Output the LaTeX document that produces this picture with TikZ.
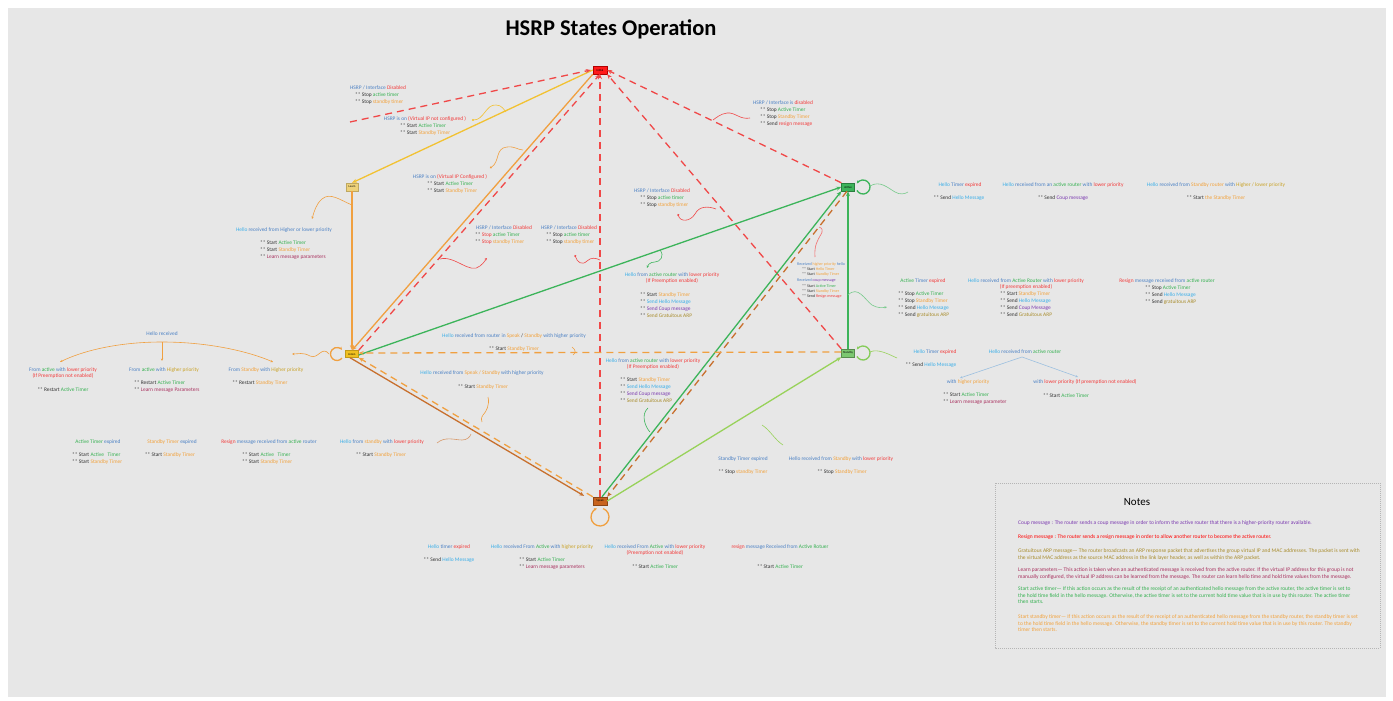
\documentclass[tikz,border=0pt]{standalone}
\usepackage{fontspec}
\setmainfont{Carlito}
\usetikzlibrary{arrows.meta}
\definecolor{bgc}{HTML}{E7E7E7}
\definecolor{cB}{HTML}{4A80C4}
\definecolor{cL}{HTML}{3AAEE8}
\definecolor{cG}{HTML}{34B050}
\definecolor{cO}{HTML}{F2A23C}
\definecolor{cR}{HTML}{F23A3A}
\definecolor{cP}{HTML}{7B3AB0}
\definecolor{cY}{HTML}{A88C2C}
\definecolor{cM}{HTML}{A8305E}
\definecolor{cK}{HTML}{333333}
\definecolor{cH}{HTML}{C9A227}
\definecolor{eY}{HTML}{F2C232}
\definecolor{eO}{HTML}{F0A040}
\definecolor{eBr}{HTML}{C8702E}
\definecolor{eR}{HTML}{F04848}
\definecolor{eG}{HTML}{3CB45A}
\definecolor{eLG}{HTML}{98D25A}
\definecolor{eLB}{HTML}{9CC0E0}
\definecolor{sInit}{HTML}{FF1A1A}
\definecolor{sLearn}{HTML}{EED27A}
\definecolor{sListen}{HTML}{F0C020}
\definecolor{sSpeak}{HTML}{C8641E}
\definecolor{sActive}{HTML}{3CB45A}
\definecolor{sStandby}{HTML}{7CC870}
\definecolor{nbox}{HTML}{B5B5B5}
\newcommand\zB[1]{\textcolor{cB}{#1}}
\newcommand\zL[1]{\textcolor{cL}{#1}}
\newcommand\zG[1]{\textcolor{cG}{#1}}
\newcommand\zO[1]{\textcolor{cO}{#1}}
\newcommand\zR[1]{\textcolor{cR}{#1}}
\newcommand\zP[1]{\textcolor{cP}{#1}}
\newcommand\zY[1]{\textcolor{cY}{#1}}
\newcommand\zM[1]{\textcolor{cM}{#1}}
\newcommand\zH[1]{\textcolor{cH}{#1}}
\begin{document}
\begin{tikzpicture}[x=1pt,y=-1pt,
  lab/.style={font=\fontsize{5.4}{6.8}\selectfont, inner sep=0pt, text=cK},
  labb/.style={lab, align=left, anchor=north west, yshift=2.4pt},
  labc/.style={lab, align=center},
  tiny/.style={font=\fontsize{4}{5.1}\selectfont, inner sep=0pt, text=cK, align=left, anchor=north west, yshift=1.8pt},
  st/.style={rectangle, inner sep=0pt, font=\fontsize{3}{3}\selectfont, minimum width=14pt, minimum height=8pt, line width=0.4pt},
  ed/.style={line width=1.3pt, -{Stealth[length=5pt,width=4pt]}},
  dsh/.style={ed, dash pattern=on 7pt off 5pt},
  wv/.style={line width=0.6pt, -{Stealth[length=2.5pt,width=2.2pt]}},
  lp/.style={line width=1.3pt},
  note/.style={font=\fontsize{5.5}{6.6}\selectfont, inner sep=0pt, align=left, anchor=north west, yshift=2.4pt},
]
\useasboundingbox (0,0) rectangle (1393,701);
\fill[bgc] (8,8) rectangle (1386,697);
% title
\node[font=\fontsize{22.5}{24}\selectfont\bfseries, inner sep=0pt] (title) at (611,29) {HSRP States Operation};
% states
\node[st, fill=sInit, draw=red!70!black] (init) at (600,70) {Initial};
\node[st, fill=sLearn, draw=sLearn!80!black, minimum width=12pt] (learn) at (352,187) {Learn};
\node[st, fill=sListen, draw=sListen!80!black, minimum width=13pt, minimum height=7pt] (listen) at (352,354) {Listen};
\node[st, fill=sSpeak, draw=sSpeak!70!black] (speak) at (600,501) {Speak};
\node[st, fill=sActive, draw=sActive!70!black, minimum width=13pt] (active) at (848,187) {Active};
\node[st, fill=sStandby, draw=sStandby!70!black, minimum width=13pt] (standby) at (848,353) {Standby};
\coordinate (rfree) at (350,122);
% edges
\draw[ed, eY] (init.west) -- (learn.north);
\draw[ed, eO] (init.south west) -- (listen.north);
\draw[ed, eO] (learn.south) -- (listen.north);
\draw[dsh, eR] (rfree) -- ([xshift=-2pt]init.west);
\draw[dsh, eR] (listen.north east) -- (init.south);
\draw[dsh, eR] (speak.north) -- (init.south);
\draw[dsh, eR] (standby.north west) -- (init.south east);
\draw[dsh, eR] (active.north west) -- (init.east);
\draw[ed, eG] ([yshift=-1pt]listen.east) -- (active.west);
\draw[ed, eG] ([xshift=2pt]speak.north) -- (active.south west);
\draw[dsh, eBr] ([xshift=-1pt]active.south) -- (speak.north east);
\draw[ed, eG] (standby.north) -- (active.south);
\draw[ed, eLG] (speak.east) -- (standby.south west);
\draw[dsh, eO] ([yshift=1pt]standby.west) -- ([yshift=1pt]listen.east);
\draw[dsh, eO] (speak.north west) -- (listen.south east);
\draw[ed, eBr, shorten >=10pt] ([xshift=-2pt]listen.south) -- (speak.west);
% self loops
\draw[lp, eG, -{Stealth[length=3pt,width=3pt]}] (863,187) ++(150:7) arc[start angle=150, end angle=-150, radius=7];
\draw[lp, eLG!80!eG, -{Stealth[length=3pt,width=3pt]}] (863,353) ++(150:7) arc[start angle=150, end angle=-150, radius=7];
\draw[lp, eO, -{Stealth[length=3pt,width=3pt]}] (337,354) ++(40:6.5) arc[start angle=40, end angle=320, radius=6.5];
\draw[lp, eO, -{Stealth[length=3pt,width=3pt]}] (600,517) ++(-70:9) arc[start angle=-70, end angle=250, radius=9];
% ---------- annotations ----------
\node[labc] (a1h) at (378,88) {\zB{HSRP / Interface} \zR{Disabled}};
\node[labb] (a1b) at (355,95) {** Stop \zG{active timer}\\** Stop \zO{standby timer}};
\node[labc] (a2h) at (425,119) {\zB{HSRP is on} \zR{(Virtual IP not configured )}};
\node[labb] (a2b) at (400,126) {** Start \zG{Active Timer}\\** Start \zO{Standby Timer}};
\node[labc] (a3h) at (450,177) {\zB{HSRP is on} \zR{(Virtual IP Configured )}};
\node[labb] (a3b) at (427,184) {** Start \zG{Active Timer}\\** Start \zO{Standby Timer}};
\node[labc] (a4h) at (783,103) {\zB{HSRP / Interface is} \zR{disabled}};
\node[labb] (a4b) at (760,110) {** Stop \zG{Active Timer}\\** Stop \zO{Standby Timer}\\** Send \zR{resign message}};
\node[labc] (a5h) at (662,191) {\zB{HSRP / Interface} \zR{Disabled}};
\node[labb] (a5b) at (640,198) {** Stop \zG{active timer}\\** Stop \zO{standby timer}};
\node[labc] (a6h) at (284,230) {\zL{Hello} \zB{received from Higher or lower priority}};
\node[labb] (a6b) at (260,243) {** Start \zG{Active Timer}\\** Start \zO{Standby Timer}\\** \zM{Learn message parameters}};
\node[labc] (a7h) at (504,228) {\zB{HSRP / Interface} \zR{Disabled}};
\node[labb] (a7b) at (475,235) {** \zR{Stop} \zG{active Timer}\\** \zR{Stop} \zO{standby Timer}};
\node[labc] (a8h) at (569,228) {\zB{HSRP / Interface} \zR{Disabled}};
\node[labb] (a8b) at (546,235) {** Stop \zG{active timer}\\** Stop \zO{standby timer}};
\node[labc] (a9h) at (672,278) {\zL{Hello} \zB{from} \zG{active router} \zB{with} \zR{lower priority}\\\zR{(If Preemption enabled)}};
\node[labb] (a9b) at (640,295) {** Start \zO{Standby Timer}\\** \zL{Send Hello Message}\\** \zP{Send Coup message}\\** \zY{Send Gratuitous ARP}};
\node[tiny] (a10) at (797,264) {\zB{Received} \zO{higher priority} \zB{hello}\\[0pt]\hspace{5pt}** Start \zO{Hello Timer}\\\hspace{5pt}** Start \zO{Standby Timer}\\[1.5pt]\zB{Received} \zP{coup message}\\\hspace{5pt}** Start \zG{Active Timer}\\\hspace{5pt}** Start \zO{Standby Timer}\\\hspace{5pt}** Send \zR{Resign message}};
% right side, active
\node[labc] (a11h) at (960,185) {\zL{Hello} \zB{Timer} \zR{expired}};
\node[labc] (a11b) at (959,198) {** Send \zL{Hello Message}};
\node[labc] (a12h) at (1063,185) {\zL{Hello} \zB{received from an} \zG{active router} \zB{with} \zR{lower priority}};
\node[labc] (a12b) at (1063,198) {** Send \zP{Coup message}};
\node[labc] (a13h) at (1216,185) {\zL{Hello} \zB{received from} \zO{Standby router} \zB{with} \zH{Higher / lower priority}};
\node[labc] (a13b) at (1216,198) {** Start \zO{the Standby Timer}};
\node[labc] (a14h) at (923,281) {\zG{Active} \zB{Timer} \zR{expired}};
\node[labb] (a14b) at (898,294) {** Stop \zG{Active Timer}\\** Stop \zO{Standby Timer}\\** Send \zL{Hello Message}\\** Send \zY{gratuitous ARP}};
\node[labc] (a15h) at (1026,284) {\zL{Hello} \zB{received from} \zG{Active Router} \zB{with} \zR{lower priority}\\\zR{(If preemption enabled)}};
\node[labb] (a15b) at (1000,294) {** Start \zO{Standby Timer}\\** Send \zL{Hello Message}\\** Send \zP{Coup Message}\\** Send \zY{Gratuitous ARP}};
\node[labc] (a16h) at (1167,281) {\zR{Resign} \zB{message received from} \zG{active router}};
\node[labb] (a16b) at (1145,288) {** Stop \zG{Active Timer}\\** Send \zL{Hello Message}\\** Send \zY{gratuitous ARP}};
% right side, standby
\node[labc] (a17h) at (935,352) {\zL{Hello} \zB{Timer} \zR{expired}};
\node[labc] (a17b) at (931,365) {** Send \zL{Hello Message}};
\node[labc] (a18) at (1025,352) {\zL{Hello} \zB{received from} \zG{active router}};
\node[labc] (a19h) at (968,382) {\zB{with} \zO{higher priority}};
\node[labb] (a19b) at (943,395) {** Start \zG{Active Timer}\\** \zM{Learn message parameter}};
\node[labc] (a20h) at (1085,382) {\zB{with} \zR{lower priority (If preemption not enabled)}};
\node[labc] (a20b) at (1066,396) {** Start \zG{Active Timer}};
\coordinate (t18) at (1022,357);
\draw[wv, eLB] (t18) -- (960,378);
\draw[wv, eLB] (t18) -- (1078,377);
% left side, listen
\node[labc] (a21) at (162,334) {\zB{Hello received}};
\node[labc] (a22h) at (63,373) {\zB{From} \zG{active} \zB{with} \zR{lower priority}\\\zR{(If Preemption not enabled)}};
\node[labc] (a22b) at (63,390) {** Restart \zG{Active Timer}};
\node[labc] (a23h) at (164,370) {\zB{From} \zG{active} \zB{with} \zH{Higher priority}};
\node[labb] (a23b) at (134,383) {** Restart \zG{Active Timer}\\** \zM{Learn message Parameters}};
\node[labc] (a24h) at (266,370) {\zB{From} \zO{Standby} \zB{with} \zH{Higher priority}};
\node[labc] (a24b) at (260,383) {** Restart \zO{Standby Timer}};
\coordinate (t21) at (162,342);
\draw[wv, eO] (t21) .. controls (115,342) and (80,352) .. (60,362);
\draw[wv, eO] (t21) .. controls (210,342) and (250,352) .. (273,362);
\draw[wv, eO] (t21) -- (162,361);
\node[labc] (a25h) at (98,442) {\zG{Active Timer} \zB{expired}};
\node[labb] (a25b) at (72,455) {** Start \zG{Active~~~Timer}\\** Start \zO{Standby Timer}};
\node[labc] (a26h) at (172,442) {\zO{Standby Timer} \zB{expired}};
\node[labc] (a26b) at (170,455) {** Start \zO{Standby Timer}};
\node[labc] (a27h) at (269,442) {\zR{Resign} \zB{message received from} \zG{active} \zB{router}};
\node[labb] (a27b) at (242,455) {** Start \zG{Active~~~Timer}\\** Start \zO{Standby Timer}};
\node[labc] (a28h) at (382,442) {\zL{Hello} \zB{from} \zO{standby} \zB{with} \zR{lower priority}};
\node[labc] (a28b) at (381,455) {** Start \zO{Standby Timer}};
% middle
\node[labc] (a29h) at (514,336) {\zL{Hello} \zB{received from router in} \zO{Speak} / \zO{Standby} \zB{with higher priority}};
\node[labc] (a29b) at (514,349) {** Start \zO{Standby Timer}};
\node[labc] (a30h) at (482,373) {\zL{Hello} \zB{received from} \zO{Speak / Standby} \zB{with higher priority}};
\node[labc] (a30b) at (483,387) {** Start \zO{Standby Timer}};
\node[labc] (a31h) at (653,364) {\zL{Hello} \zB{from} \zG{active router} \zB{with} \zR{lower priority}\\\zR{(If Preemption enabled)}};
\node[labb] (a31b) at (620,380) {** Start \zO{Standby Timer}\\** \zL{Send Hello Message}\\** \zP{Send Coup message}\\** \zY{Send Gratuitous ARP}};
\node[labc] (a32h) at (743,459) {\zB{Standby Timer expired}};
\node[labc] (a32b) at (743,472) {** Stop \zO{standby Timer}};
\node[labc] (a33h) at (841,459) {\zB{Hello received from} \zO{Standby} \zB{with} \zR{lower priority}};
\node[labc] (a33b) at (842,472) {** Stop \zO{Standby Timer}};
% bottom, speak
\node[labc] (a34h) at (449,547) {\zL{Hello} \zB{timer} \zR{expired}};
\node[labc] (a34b) at (449,560) {** Send \zL{Hello Message}};
\node[labc] (a35h) at (542,547) {\zL{Hello} \zB{received From} \zG{Active} \zB{with} \zH{higher priority}};
\node[labb] (a35b) at (519,560) {** Start \zG{Active Timer}\\** \zM{Learn message parameters}};
\node[labc] (a36h) at (655,550) {\zL{Hello} \zB{received From} \zG{Active} \zB{with} \zR{lower priority}\\\zR{(Preemption not enabled)}};
\node[labc] (a36b) at (655,567) {** Start \zG{Active Timer}};
\node[labc] (a37h) at (780,547) {\zR{resign} \zB{message Received from} \zG{Active Rotuer}};
\node[labc] (a37b) at (780,567) {** Start \zG{Active Timer}};
% ---------- wavy pointers ----------
\draw[wv, eY, {Circle[length=2pt]}-] (472,120) .. controls (484,120) and (486,104) .. (496,105) .. controls (502,105) and (504,110) .. (506,112);
\draw[wv, eO, {Circle[length=2pt]}-] (490,168) .. controls (500,162) and (495,148) .. (507,147) .. controls (515,146) and (518,150) .. (523,150);
\draw[wv, eR, -] (750,118) .. controls (740,120) and (735,112) .. (727,113) .. controls (720,114) and (716,118) .. (713,120);
\draw[wv, eR, {Circle[length=2pt]}-] (678,214) .. controls (680,222) and (690,222) .. (695,214) .. controls (699,206) and (708,206) .. (716,209);
\draw[wv, eO] (352,205) .. controls (340,200) and (330,192) .. (322,199) .. controls (316,204) and (314,212) .. (312,219);
\draw[wv, eR] (440,259) .. controls (455,255) and (470,275) .. (480,266) .. controls (485,262) and (486,259) .. (487,258);
\draw[wv, eR, {Circle[length=2pt]}-] (575,255) .. controls (577,262) and (582,266) .. (587,261) .. controls (591,257) and (596,258) .. (600,260);
\draw[wv, eG] (660,250) .. controls (665,256) and (660,262) .. (655,262) .. controls (650,262) and (648,265) .. (647,268);
\draw[wv, eR!80!white, -] (815,257) .. controls (814,245) and (818,240) .. (820,236) .. controls (824,230) and (822,228) .. (819,227);
\draw[wv, eG!70!white] (848,295) .. controls (858,285) and (865,300) .. (872,305) .. controls (877,308) and (882,308) .. (887,307);
\draw[wv, eG!70!white, -] (870,186) .. controls (880,180) and (888,188) .. (895,192) .. controls (900,195) and (905,194) .. (908,192);
\draw[wv, eLG, -] (870,352) .. controls (878,348) and (890,355) .. (897,358);
\draw[wv, eO] (329,354) .. controls (322,345) and (318,360) .. (310,356) .. controls (303,352) and (298,354) .. (292,354);
\draw[wv, eBr!70!white, -] (437,443) .. controls (445,436) and (455,440) .. (462,440) .. controls (467,440) and (470,437) .. (471,434);
\draw[wv, eO, -] (572,347) .. controls (576,350) and (576,353) .. (573,355);
\draw[wv, eO, -] (488,397) .. controls (490,405) and (486,412) .. (483,415) .. controls (481,418) and (481,420) .. (482,422);
\draw[wv, eG, -] (648,408) .. controls (640,415) and (646,428) .. (650,432);
\draw[wv, eLG, -] (762,425) .. controls (770,430) and (775,440) .. (783,445);
% ---------- notes ----------
\draw[nbox, line width=0.5pt, dash pattern=on 1pt off 1pt] (995,483) rectangle (1380,648);
\node[font=\fontsize{11}{11}\selectfont, inner sep=0pt] (notesT) at (1137,502) {Notes};
\node[note, text=cP] (n1) at (1018,523) {Coup message : The router sends a coup message in order to inform the active router that there is a higher-priority router available.};
\node[note, text=red] (n2) at (1018,537) {Resign message : The router sends a resign message in order to allow another router to become the active router.};
\node[note, text=cY] (n3) at (1018,551) {Gratuitous ARP message— The router broadcasts an ARP response packet that advertises the group virtual IP and MAC addresses. The packet is sent with\\the virtual MAC address as the source MAC address in the link layer header, as well as within the ARP packet.};
\node[note, text=cM] (n4) at (1018,570) {Learn parameters— This action is taken when an authenticated message is received from the active router. If the virtual IP address for this group is not\\manually configured, the virtual IP address can be learned from the message. The router can learn hello time and hold time values from the message.};
\node[note, text=cG] (n5) at (1018,589) {Start active timer— If this action occurs as the result of the receipt of an authenticated hello message from the active router, the active timer is set to\\the hold time field in the hello message. Otherwise, the active timer is set to the current hold time value that is in use by this router. The active timer\\then starts.};
\node[note, text=cO] (n6) at (1018,617) {Start standby timer— If this action occurs as the result of the receipt of an authenticated hello message from the standby router, the standby timer is set\\to the hold time field in the hello message. Otherwise, the standby timer is set to the current hold time value that is in use by this router. The standby\\timer then starts.};
\end{tikzpicture}
\end{document}
